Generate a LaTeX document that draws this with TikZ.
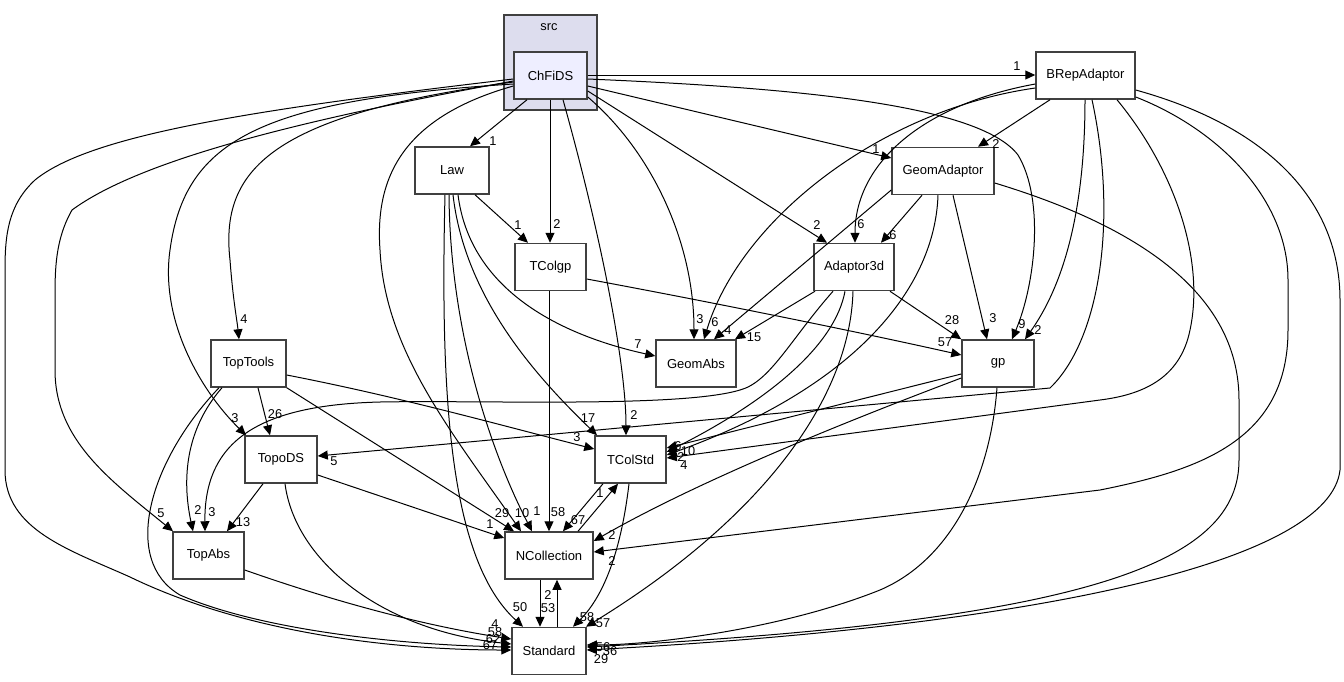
\documentclass[tikz,border=0pt]{standalone}
\usepackage{fontspec}
\setmainfont{Liberation Sans}
\usetikzlibrary{arrows.meta}
\definecolor{clusterfill}{RGB}{221,221,238}
\definecolor{mainfill}{RGB}{238,238,255}
\definecolor{boxline}{RGB}{64,64,64}
\begin{document}
\begin{tikzpicture}[x=1pt,y=-1pt,
  box/.style={draw=boxline, line width=1.5pt, fill=white, minimum height=47pt, inner sep=0pt, font=\fontsize{13}{14}\selectfont},
  lbl/.style={inner sep=0pt, font=\fontsize{12.8}{14}\selectfont},
  dep/.style={line width=1pt, draw=black, -{Triangle[length=10pt,width=9pt]}}]
\useasboundingbox (0,0) rectangle (1344,681);
% cluster
\node[draw=boxline, line width=1.5pt, fill=clusterfill, minimum width=93pt, minimum height=95pt, inner sep=0pt] (src) at (550.5,62.5) {};
\node[lbl] (srclbl) at (549,27) {src};
% nodes
\node[box, fill=mainfill, minimum width=73pt] (ChFiDS) at (550.5,75.5) {ChFiDS};
\node[box, minimum width=99pt] (BRepAdaptor) at (1085.5,75.5) {BRepAdaptor};
\node[box, minimum width=74pt] (Law) at (452,170.5) {Law};
\node[box, minimum width=102pt] (GeomAdaptor) at (943,171) {GeomAdaptor};
\node[box, minimum width=71pt] (TColgp) at (550.5,267) {TColgp};
\node[box, minimum width=80pt] (Adaptor3d) at (854,267) {Adaptor3d};
\node[box, minimum width=75pt] (TopTools) at (248.5,363.5) {TopTools};
\node[box, minimum width=80pt] (GeomAbs) at (696,363.5) {GeomAbs};
\node[box, minimum width=72pt] (gp) at (998,363.5) {gp};
\node[box, minimum width=72pt] (TopoDS) at (281,459.5) {TopoDS};
\node[box, minimum width=71pt] (TColStd) at (630.5,459.5) {TColStd};
\node[box, minimum width=71pt] (TopAbs) at (208.5,555.5) {TopAbs};
\node[box, minimum width=88pt] (NCollection) at (549,555.5) {NCollection};
\node[box, minimum width=74pt] (Standard) at (549,651) {Standard};

% ---- ChFiDS ----
\draw[dep] (ChFiDS.east |- 0,75) -- (BRepAdaptor.west |- 0,75);
\node[lbl] (lA1) at (1017,66) {1};
\draw[dep] (527,0 |- ChFiDS.south) -- (470,0 |- Law.north);
\node[lbl] (lA2) at (493,141) {1};
\draw[dep] (550,0 |- ChFiDS.south) -- (550,0 |- TColgp.north);
\node[lbl] (lA3) at (557,224) {2};
\draw[dep] (563,0 |- ChFiDS.south) .. controls (605,250) and (626,370) .. (626,0 |- TColStd.north);
\node[lbl] (lA4) at (634,415) {2};
\draw[dep] (ChFiDS.east |- 0,97) .. controls (650,150) and (694,240) .. (694,0 |- GeomAbs.north);
\node[lbl] (lA5) at (700,319) {3};
\draw[dep] (ChFiDS.east |- 0,91) -- (827,0 |- Adaptor3d.north);
\node[lbl] (lA6) at (817,225) {2};
\draw[dep] (ChFiDS.east |- 0,86) -- (GeomAdaptor.west |- 0,158);
\node[lbl] (lA7) at (876,149) {1};
\draw[dep] (ChFiDS.east |- 0,79) .. controls (800,88) and (980,105) .. (1018,155) .. controls (1045,200) and (1035,285) .. (1012,0 |- gp.north);
\node[lbl] (lA8) at (1022,324) {9};
\draw[dep] (ChFiDS.west |- 0,82) .. controls (270,115) and (220,170) .. (230,260) .. controls (233,300) and (237,320) .. (239,0 |- TopTools.north);
\node[lbl] (lA9) at (244,319) {4};
\draw[dep] (ChFiDS.west |- 0,84) .. controls (260,100) and (185,140) .. (170,250) .. controls (160,320) and (200,390) .. (246,0 |- TopoDS.north);
\node[lbl] (lA10) at (235,418) {3};
\draw[dep] (ChFiDS.west |- 0,81) .. controls (300,120) and (140,160) .. (72,210) .. controls (55,240) and (55,270) .. (55,300) -- (55,370) .. controls (55,440) and (110,480) .. (173,0 |- TopAbs.north);
\node[lbl] (lA11) at (161,513) {5};
\draw[dep] (ChFiDS.west |- 0,79) .. controls (250,110) and (90,135) .. (35,180) .. controls (8,205) and (5,235) .. (5,270) -- (5,470) .. controls (5,530) and (70,550) .. (130,577) .. controls (250,635) and (400,650) .. (Standard.west |- 0,650);
\node[lbl] (lA12) at (490,645) {67};
\draw[dep] (ChFiDS.west |- 0,86) .. controls (400,118) and (375,180) .. (380,250) .. controls (385,350) and (450,430) .. (521,0 |- NCollection.north);
\node[lbl] (lA13) at (522,513) {10};

% ---- Law ----
\draw[dep] (475,0 |- Law.south) -- (528,0 |- TColgp.north);
\node[lbl] (lB1) at (518,225) {1};
\draw[dep] (458,0 |- Law.south) .. controls (470,290) and (560,335) .. (GeomAbs.west |- 0,356);
\node[lbl] (lB2) at (638,344) {7};
\draw[dep] (453,0 |- Law.south) .. controls (465,300) and (540,380) .. (597,0 |- TColStd.north);
\node[lbl] (lB3) at (588,418) {17};
\draw[dep] (449,0 |- Law.south) .. controls (450,330) and (490,450) .. (532,0 |- NCollection.north);
\node[lbl] (lB4) at (537,511) {1};
\draw[dep] (445,0 |- Law.south) .. controls (440,400) and (450,560) .. (523,0 |- Standard.north);
\node[lbl] (lB5) at (520,607) {50};

% ---- TColgp ----
\draw[dep] (549,0 |- TColgp.south) -- (549,0 |- NCollection.north);
\node[lbl] (lC1) at (558,512) {58};
\draw[dep] (TColgp.east |- 0,279) .. controls (700,300) and (850,330) .. (gp.west |- 0,355);
\node[lbl] (lC2) at (945,342) {57};

% ---- Adaptor3d ----
\draw[dep] (815,0 |- Adaptor3d.south) -- (735,0 |- GeomAbs.north);
\node[lbl] (lD1) at (754,337) {15};
\draw[dep] (890,0 |- Adaptor3d.south) -- (gp.north west);
\node[lbl] (lD2) at (952,320) {28};
\draw[dep] (833,0 |- Adaptor3d.south) .. controls (790,340) and (770,382) .. (740,390) .. controls (680,408) and (480,400) .. (380,402) .. controls (260,405) and (204,440) .. (205,0 |- TopAbs.north);
\node[lbl] (lD3) at (212,512) {3};
\draw[dep] (845,0 |- Adaptor3d.south) .. controls (835,345) and (770,400) .. (TColStd.east |- 0,452);
\node[lbl] (lD4) at (678,446) {6};
\draw[dep] (853,0 |- Adaptor3d.south) .. controls (850,400) and (760,520) .. (586,0 |- Standard.north);
\node[lbl] (lD5) at (603,623) {57};

% ---- GeomAdaptor ----
\draw[dep] (953,0 |- GeomAdaptor.south) -- (987,0 |- gp.north);
\node[lbl] (lE1) at (993,318) {3};
\draw[dep] (922,0 |- GeomAdaptor.south) -- (881,0 |- Adaptor3d.north);
\node[lbl] (lE2) at (893,235) {6};
\draw[dep] (GeomAdaptor.west |- 0,190) -- (714,0 |- GeomAbs.north);
\node[lbl] (lE3) at (728,330) {4};
\draw[dep] (938,0 |- GeomAdaptor.south) .. controls (935,285) and (860,385) .. (TColStd.east |- 0,455);
\node[lbl] (lE4) at (681,457) {2};
\draw[dep] (GeomAdaptor.east |- 0,183) .. controls (1150,230) and (1239,300) .. (1239,400) -- (1239,460) .. controls (1239,560) and (1100,620) .. (Standard.east |- 0,647);
\node[lbl] (lE5) at (610,651) {36};

% ---- BRepAdaptor ----
\draw[dep] (BRepAdaptor.west |- 0,88) .. controls (880,110) and (740,220) .. (704,0 |- GeomAbs.north);
\node[lbl] (lF1) at (715,322) {6};
\draw[dep] (BRepAdaptor.west |- 0,84) .. controls (920,105) and (855,165) .. (855,0 |- Adaptor3d.north);
\node[lbl] (lF2) at (861,224) {6};
\draw[dep] (1050,0 |- BRepAdaptor.south) -- (978,0 |- GeomAdaptor.north);
\node[lbl] (lF3) at (996,144) {2};
\draw[dep] (1085,0 |- BRepAdaptor.south) .. controls (1085,220) and (1060,290) .. (1025,0 |- gp.north);
\node[lbl] (lF4) at (1038,330) {2};
\draw[dep] (1092,0 |- BRepAdaptor.south) .. controls (1118,220) and (1100,340) .. (1050,388) -- (TopoDS.east |- 0,456);
\node[lbl] (lF5) at (334,461) {5};
\draw[dep] (1117,0 |- BRepAdaptor.south) .. controls (1175,170) and (1205,260) .. (1190,330) .. controls (1180,380) and (1140,395) .. (1100,400) -- (TColStd.east |- 0,458);
\node[lbl] (lF6) at (684,465) {4};
\draw[dep] (BRepAdaptor.east |- 0,97) .. controls (1220,130) and (1288,200) .. (1288,280) -- (1288,330) .. controls (1288,440) and (1200,470) .. (1100,490) -- (NCollection.east |- 0,552);
\node[lbl] (lF7) at (612,561) {2};
\draw[dep] (BRepAdaptor.east |- 0,90) .. controls (1280,130) and (1340,210) .. (1340,300) -- (1340,470) .. controls (1330,560) and (1050,625) .. (Standard.east |- 0,650);
\node[lbl] (lF8) at (601,659) {29};

% ---- gp ----
\draw[dep] (gp.west |- 0,374) -- (TColStd.east |- 0,448);
\node[lbl] (lG1) at (688,451) {10};
\draw[dep] (gp.west |- 0,378) .. controls (850,420) and (700,480) .. (NCollection.east |- 0,541);
\node[lbl] (lG2) at (612,535) {2};
\draw[dep] (997,0 |- gp.south) .. controls (990,480) and (950,560) .. (880,590) .. controls (780,630) and (650,645) .. (Standard.east |- 0,645);
\node[lbl] (lG3) at (603,647) {56};

% ---- TColStd ----
\draw[dep] (603,0 |- TColStd.south) -- (563,0 |- NCollection.north);
\node[lbl] (lH1) at (578,520) {67};
\draw[dep] (578,0 |- NCollection.north) -- (618,0 |- TColStd.south);
\node[lbl] (lH2) at (600,493) {1};
\draw[dep] (629,0 |- TColStd.south) .. controls (620,560) and (600,600) .. (573,0 |- Standard.north);
\node[lbl] (lH3) at (587,617) {58};

% ---- TopTools ----
\draw[dep] (258,0 |- TopTools.south) -- (270,0 |- TopoDS.north);
\node[lbl] (lI1) at (275,414) {26};
\draw[dep] (TopTools.east |- 0,375) .. controls (400,397) and (500,425) .. (TColStd.west |- 0,449);
\node[lbl] (lI2) at (577,437) {3};
\draw[dep] (TopTools.south east) -- (514,0 |- NCollection.north);
\node[lbl] (lI3) at (502,513) {29};
\draw[dep] (222,0 |- TopTools.south) .. controls (185,430) and (182,480) .. (193,0 |- TopAbs.north);
\node[lbl] (lI4) at (198,510) {2};
\draw[dep] (219,0 |- TopTools.south) .. controls (150,460) and (120,560) .. (180,595) .. controls (260,630) and (400,645) .. (Standard.west |- 0,647);
\node[lbl] (lI5) at (493,639) {62};

% ---- TopoDS ----
\draw[dep] (263,0 |- TopoDS.south) -- (227,0 |- TopAbs.north);
\node[lbl] (lJ1) at (243,522) {13};
\draw[dep] (TopoDS.east |- 0,475) -- (NCollection.west |- 0,538);
\node[lbl] (lJ2) at (490,524) {1};
\draw[dep] (285,0 |- TopoDS.south) .. controls (295,560) and (380,630) .. (Standard.west |- 0,644);
\node[lbl] (lJ3) at (495,632) {58};

% ---- TopAbs ----
\draw[dep] (TopAbs.east |- 0,570) .. controls (330,600) and (420,625) .. (Standard.west |- 0,639);
\node[lbl] (lK1) at (495,624) {4};

% ---- NCollection / Standard ----
\draw[dep] (540,0 |- NCollection.south) -- (540,0 |- Standard.north);
\node[lbl] (lL1) at (548,608) {53};
\draw[dep] (557,0 |- Standard.north) -- (557,0 |- NCollection.south);
\node[lbl] (lL2) at (548,595) {2};
\end{tikzpicture}
\end{document}
